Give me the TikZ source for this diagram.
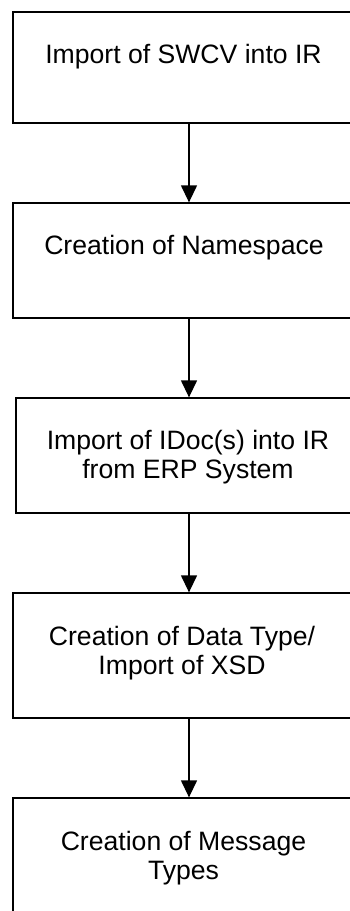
\documentclass[tikz,border=0pt]{standalone}
\usepackage{fontspec}
\setmainfont{Liberation Sans}
\usetikzlibrary{arrows.meta}
\tikzset{
  stepbox/.style={draw=black, line width=1.3pt, rectangle, inner sep=0pt, fill=none},
  steptext/.style={anchor=base, inner sep=0pt, font=\fontsize{26.6pt}{29pt}\selectfont},
  flowarrow/.style={draw=black, line width=1.3pt, -{Triangle[length=17pt,width=16pt]}}
}
\newcommand{\twolines}[2]{\begin{tabular}[t]{@{}c@{}}#1\\#2\end{tabular}}
\begin{document}
\begin{tikzpicture}[x=1pt,y=-1pt]
\useasboundingbox (0,0) rectangle (349,911);
\fill[white] (0,0) rectangle (349,911);
% boxes
\node[stepbox, minimum width=352pt, minimum height=111pt] (b1) at (189,67.5) {};
\node[stepbox, minimum width=352pt, minimum height=115pt] (b2) at (189,260.5) {};
\node[stepbox, minimum width=346pt, minimum height=115pt] (b3) at (189,455.5) {};
\node[stepbox, minimum width=352pt, minimum height=125pt] (b4) at (189,655.5) {};
\node[stepbox, minimum width=352pt, minimum height=120pt] (b5) at (189,858) {};
% texts
\node[steptext] (t1) at (183.5,63) {Import of SWCV into IR};
\node[steptext] (t2) at (184,254) {Creation of Namespace};
\node[steptext] (t3) at (188,449) {\twolines{Import of IDoc(s) into IR}{from ERP System}};
\node[steptext] (t4) at (182,645) {\twolines{Creation of Data Type/}{Import of XSD}};
\node[steptext] (t5) at (183.5,850) {\twolines{Creation of Message}{Types}};
% arrows
\draw[flowarrow] (b1.south) -- (b2.north);
\draw[flowarrow] (b2.south) -- (b3.north);
\draw[flowarrow] (b3.south) -- (b4.north);
\draw[flowarrow] (b4.south) -- (b5.north);
\end{tikzpicture}
\end{document}
